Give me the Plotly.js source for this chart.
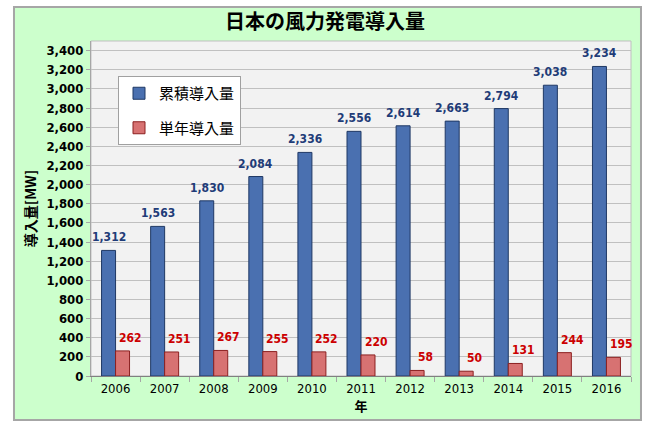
<!DOCTYPE html>
<html>
<head>
<meta charset="utf-8">
<script src="https://cdn.plot.ly/plotly-3.0.1.min.js"></script>
<style>
  body { margin: 0; background: #fff; }
  #chart { width: 650px; height: 426px; }
</style>
</head>
<body>
<div id="chart"></div>
<script>
const years = ["2006", "2007", "2008", "2009", "2010", "2011", "2012", "2013", "2014", "2015", "2016"];
const cumulative = [1312, 1563, 1830, 2084, 2336, 2556, 2614, 2663, 2794, 3038, 3234];
const annual = [262, 251, 267, 255, 252, 220, 58, 50, 131, 244, 195];
const seriesNames = ["累積導入量", "単年導入量"];

const fmt = v => v.toLocaleString("en-US");
const numFont = "DejaVu Sans Condensed, DejaVu Sans, sans-serif";
const jpFont = "Noto Sans CJK JP, sans-serif";

const traces = [
    {
        x: years, y: cumulative, name: seriesNames[0], type: "bar", legendgroup: "a",
        marker: {color: "#4a70b0", line: {color: "#1f3864", width: 1}}
    },
    {
        x: years, y: annual, name: seriesNames[1], type: "bar", legendgroup: "b",
        marker: {color: "#d77272", line: {color: "#8c2020", width: 1}}
    }
];

// value labels above each bar (x given as category index)
const notes = [];
years.forEach((yr, i) => {
    notes.push({
        x: i, y: cumulative[i], text: fmt(cumulative[i]), showarrow: false,
        yanchor: "bottom", xshift: -7, yshift: 4,
        font: {family: numFont, size: 12, color: "#1f3c78", weight: "bold"}
    });
    notes.push({
        x: i, y: annual[i], text: fmt(annual[i]), showarrow: false,
        yanchor: "bottom", xshift: 15, yshift: 4,
        font: {family: numFont, size: 12, color: "#cc0000", weight: "bold"}
    });
});

const layout = {
    width: 650, height: 426,
    margin: {l: 91, r: 19, t: 41, b: 50},
    paper_bgcolor: "#ffffff",
    plot_bgcolor: "#f2f2f2",
    barmode: "group",
    bargap: 0.43,
    bargroupgap: 0,
    showlegend: true,
    title: {
        text: "日本の風力発電導入量", x: 0.5, xref: "container", y: 0.948, yref: "container", yanchor: "middle",
        font: {family: jpFont, size: 20, color: "#000", weight: "bold"}
    },
    xaxis: {
        type: "category",
        range: [-0.5, years.length - 0.5],
        tickfont: {family: numFont, size: 13, color: "#000"},
        tickangle: 0,
        ticks: "outside", tickson: "boundaries", ticklen: 5, tickcolor: "#a6a6a6",
        showline: true, linecolor: "#808080", mirror: false,
        title: {text: "年", standoff: 0, font: {family: jpFont, size: 13, color: "#000", weight: "bold"}}
    },
    yaxis: {
        range: [0, 3500],
        tickvals: Array.from({length: 18}, (_, k) => k * 200),
        ticktext: Array.from({length: 18}, (_, k) => fmt(k * 200)),
        tickfont: {family: numFont, size: 13, color: "#000", weight: "bold"},
        ticks: "outside", ticklen: 4, tickcolor: "#a6a6a6",
        showline: true, linecolor: "#a6a6a6",
        gridcolor: "#c0c0c0", gridwidth: 1,
        zeroline: false,
        title: {text: "導入量[MW]", standoff: 6, font: {family: jpFont, size: 14, color: "#000", weight: "bold"}}
    },
    legend: {
        x: 0.05, y: 0.8955, xanchor: "left", yanchor: "top",
        bgcolor: "#ffffff", bordercolor: "#a0a0a0", borderwidth: 1,
        tracegroupgap: 12,
        font: {family: jpFont, size: 15, color: "#000"}
    },
    shapes: [
        {type: "rect", xref: "paper", yref: "paper", x0: -0.1426, x1: 1.0185, y0: -0.1313, y1: 1.1015,
         fillcolor: "#ccffcc", line: {color: "#a6a6a6", width: 2}, layer: "below"},
        {type: "rect", xref: "paper", yref: "paper", x0: 0, x1: 1, y0: 0, y1: 1,
         fillcolor: "#f2f2f2", line: {color: "#bfbfbf", width: 1}, layer: "below"}
    ],
    annotations: notes
};

Plotly.newPlot("chart", traces, layout, {displayModeBar: false, staticPlot: true});
</script>
</body>
</html>
